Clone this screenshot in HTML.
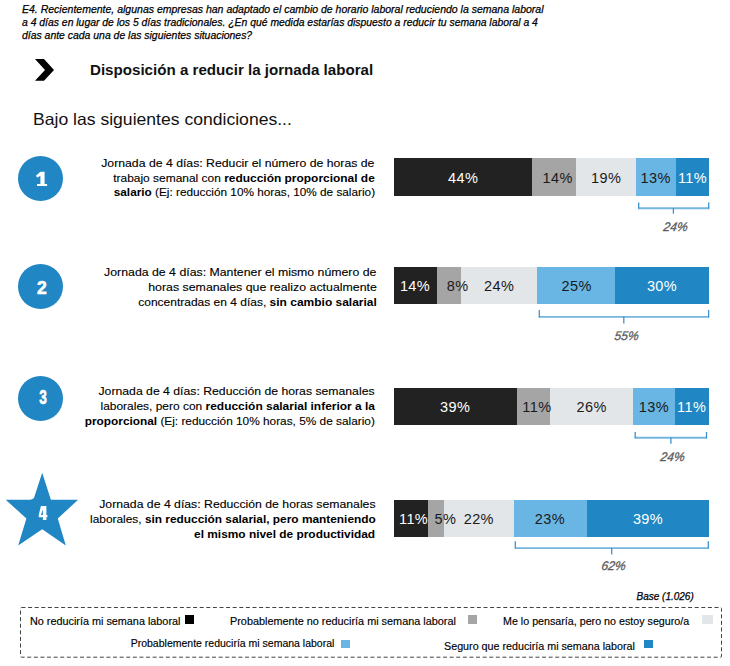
<!DOCTYPE html>
<html><head><meta charset="utf-8"><style>
html,body{margin:0;padding:0;background:#fff;}
body{width:730px;height:666px;position:relative;overflow:hidden;font-family:"Liberation Sans", sans-serif;}
b{font-weight:bold;-webkit-text-stroke:0;}
</style></head><body>
<div style="position:absolute;left:22px;top:3.79px;font-size:11px;line-height:11px;font-weight:normal;font-style:italic;color:#000;white-space:nowrap;transform:scaleX(0.955);transform-origin:left 9.31px;-webkit-text-stroke:0.25px #000;">E4. Recientemente, algunas empresas han adaptado el cambio de horario laboral reduciendo la semana laboral</div>
<div style="position:absolute;left:22px;top:17.19px;font-size:11px;line-height:11px;font-weight:normal;font-style:italic;color:#000;white-space:nowrap;transform:scaleX(0.9447);transform-origin:left 9.31px;-webkit-text-stroke:0.25px #000;">a 4 días en lugar de los 5 días tradicionales. ¿En qué medida estarías dispuesto a reducir tu semana laboral a 4</div>
<div style="position:absolute;left:22px;top:29.99px;font-size:11px;line-height:11px;font-weight:normal;font-style:italic;color:#000;white-space:nowrap;transform:scaleX(0.948);transform-origin:left 9.31px;-webkit-text-stroke:0.25px #000;">días ante cada una de las siguientes situaciones?</div>
<svg style="position:absolute;left:0;top:0" width="730" height="666"><polygon points="35,59 44,59 54,69.9 44,80.8 35,80.8 45,69.9" fill="#000"/></svg>
<div style="position:absolute;left:89.5px;top:62.85px;font-size:14px;line-height:14px;font-weight:bold;font-style:normal;color:#111;white-space:nowrap;transform:scaleX(1.08);transform-origin:left 11.85px;">Disposición a reducir la jornada laboral</div>
<div style="position:absolute;left:33px;top:110.73px;font-size:16.5px;line-height:16.5px;font-weight:normal;font-style:normal;color:#111;white-space:nowrap;transform:scaleX(1.065);transform-origin:left 13.97px;">Bajo las siguientes condiciones...</div>
<div style="position:absolute;left:18.40px;top:155.95px;width:44.9px;height:44.9px;border-radius:50%;background:#2187c4"></div>
<svg style="position:absolute;left:0;top:0" width="730" height="666"><path fill="#fff" d="M40.3,171.8 L44.6,171.8 L44.6,183.9 L47.1,183.9 L47.1,186.1 L37,186.1 L37,183.9 L40.4,183.9 L40.4,175.8 L37.6,177.5 C37,177.4 36.2,176.6 35.9,175.8 Z"/></svg>
<div style="position:absolute;left:18.10px;top:263.85px;width:44.9px;height:44.9px;border-radius:50%;background:#2187c4"></div>
<div style="position:absolute;left:-258.05px;width:600px;text-align:center;top:277.75px;font-size:19.14px;line-height:19.14px;font-weight:bold;font-style:normal;color:#fff;white-space:nowrap;transform:scaleX(0.921);transform-origin:center 16.20px;-webkit-text-stroke:0.6px #fff;">2</div>
<div style="position:absolute;left:18.10px;top:375.85px;width:44.9px;height:44.9px;border-radius:50%;background:#2187c4"></div>
<div style="position:absolute;left:-256.95px;width:600px;text-align:center;top:388.42px;font-size:19.29px;line-height:19.29px;font-weight:bold;font-style:normal;color:#fff;white-space:nowrap;transform:scaleX(0.709);transform-origin:center 16.33px;-webkit-text-stroke:0.6px #fff;">3</div>
<svg style="position:absolute;left:0;top:0" width="730" height="666"><path d="M42.2,472.8 L50.9,499.8 L78.1,499.8 L57.8,518.4 L65.8,545.4 L42.2,529.2 L18.2,545.4 L26.4,518.4 L5.7,499.8 L29.6,499.8 Q33.3,499.5 34.2,497.2 Z" fill="#2187c4"/></svg>
<svg style="position:absolute;left:0;top:0" width="730" height="666"><path fill-rule="evenodd" fill="#fff" d="M40.9,506 L46.4,506 L46.4,514.9 L47.4,514.9 L47.4,517.2 L46.4,517.2 L46.4,520 L42.9,520 L42.9,517.2 L38.8,517.2 L38.8,514.7 Z M42.9,509.6 L42.9,514.9 L40.9,514.9 Z"/></svg>
<div style="position:absolute;right:355.4px;top:158.07px;font-size:11.5px;line-height:11.5px;font-weight:normal;font-style:normal;color:#000;white-space:nowrap;transform:scaleX(1.0655652173913044);transform-origin:right 9.73px;-webkit-text-stroke:0.12px #000;">Jornada de 4 días: Reducir el número de horas de</div>
<div style="position:absolute;right:355.4px;top:173.07px;font-size:11.5px;line-height:11.5px;font-weight:normal;font-style:normal;color:#000;white-space:nowrap;transform:scaleX(1.0387826086956522);transform-origin:right 9.73px;-webkit-text-stroke:0.12px #000;">trabajo semanal con <b>reducción proporcional de</b></div>
<div style="position:absolute;right:355.4px;top:187.47px;font-size:11.5px;line-height:11.5px;font-weight:normal;font-style:normal;color:#000;white-space:nowrap;transform:scaleX(1.0244347826086955);transform-origin:right 9.73px;-webkit-text-stroke:0.12px #000;"><b>salario</b> (Ej: reducción 10% horas, 10% de salario)</div>
<div style="position:absolute;right:353.6px;top:267.17px;font-size:11.5px;line-height:11.5px;font-weight:normal;font-style:normal;color:#000;white-space:nowrap;transform:scaleX(1.0703478260869566);transform-origin:right 9.73px;-webkit-text-stroke:0.12px #000;">Jornada de 4 días: Mantener el mismo número de</div>
<div style="position:absolute;right:353.6px;top:282.17px;font-size:11.5px;line-height:11.5px;font-weight:normal;font-style:normal;color:#000;white-space:nowrap;transform:scaleX(1.0741739130434782);transform-origin:right 9.73px;-webkit-text-stroke:0.12px #000;">horas semanales que realizo actualmente</div>
<div style="position:absolute;right:353.6px;top:296.97px;font-size:11.5px;line-height:11.5px;font-weight:normal;font-style:normal;color:#000;white-space:nowrap;transform:scaleX(1.0426086956521738);transform-origin:right 9.73px;-webkit-text-stroke:0.12px #000;">concentradas en 4 días, <b>sin cambio salarial</b></div>
<div style="position:absolute;right:355px;top:386.17px;font-size:11.5px;line-height:11.5px;font-weight:normal;font-style:normal;color:#000;white-space:nowrap;transform:scaleX(1.0636521739130436);transform-origin:right 9.73px;-webkit-text-stroke:0.12px #000;">Jornada de 4 días: Reducción de horas semanales</div>
<div style="position:absolute;right:355px;top:400.57px;font-size:11.5px;line-height:11.5px;font-weight:normal;font-style:normal;color:#000;white-space:nowrap;transform:scaleX(1.0397391304347825);transform-origin:right 9.73px;-webkit-text-stroke:0.12px #000;">laborales, pero con <b>reducción salarial inferior a la</b></div>
<div style="position:absolute;right:355px;top:415.57px;font-size:11.5px;line-height:11.5px;font-weight:normal;font-style:normal;color:#000;white-space:nowrap;transform:scaleX(1.0292173913043479);transform-origin:right 9.73px;-webkit-text-stroke:0.12px #000;"><b>proporcional</b> (Ej: reducción 10% horas, 5% de salario)</div>
<div style="position:absolute;right:354.7px;top:498.77px;font-size:11.5px;line-height:11.5px;font-weight:normal;font-style:normal;color:#000;white-space:nowrap;transform:scaleX(1.0646086956521739);transform-origin:right 9.73px;-webkit-text-stroke:0.12px #000;">Jornada de 4 días: Reducción de horas semanales</div>
<div style="position:absolute;right:354.7px;top:513.77px;font-size:11.5px;line-height:11.5px;font-weight:normal;font-style:normal;color:#000;white-space:nowrap;transform:scaleX(1.0320869565217392);transform-origin:right 9.73px;-webkit-text-stroke:0.12px #000;">laborales, <b>sin reducción salarial, pero manteniendo</b></div>
<div style="position:absolute;right:354.7px;top:528.57px;font-size:11.5px;line-height:11.5px;font-weight:normal;font-style:normal;color:#000;white-space:nowrap;transform:scaleX(1.034);transform-origin:right 9.73px;-webkit-text-stroke:0.12px #000;"><b>el mismo nivel de productividad</b></div>
<div style="position:absolute;left:394px;top:158px;width:138px;height:37.5px;background:#222222;"></div>
<div style="position:absolute;left:532px;top:158px;width:44px;height:37.5px;background:#a5a5a5;"></div>
<div style="position:absolute;left:576px;top:158px;width:60px;height:37.5px;background:#e2e6e9;"></div>
<div style="position:absolute;left:636px;top:158px;width:40px;height:37.5px;background:#69b6e4;"></div>
<div style="position:absolute;left:676px;top:158px;width:33px;height:37.5px;background:#2187c4;"></div>
<div style="position:absolute;left:163.2px;width:600px;text-align:center;top:170.97px;font-size:14.5px;line-height:14.5px;font-weight:normal;font-style:normal;color:#fff;white-space:nowrap;letter-spacing:0.4px;">44%</div>
<div style="position:absolute;left:257.70000000000005px;width:600px;text-align:center;top:170.97px;font-size:14.5px;line-height:14.5px;font-weight:normal;font-style:normal;color:#1a1a1a;white-space:nowrap;letter-spacing:0.4px;">14%</div>
<div style="position:absolute;left:306.20000000000005px;width:600px;text-align:center;top:170.97px;font-size:14.5px;line-height:14.5px;font-weight:normal;font-style:normal;color:#1a1a1a;white-space:nowrap;letter-spacing:0.4px;">19%</div>
<div style="position:absolute;left:355.70000000000005px;width:600px;text-align:center;top:170.97px;font-size:14.5px;line-height:14.5px;font-weight:normal;font-style:normal;color:#1a1a1a;white-space:nowrap;letter-spacing:0.4px;">13%</div>
<div style="position:absolute;left:392.5px;width:600px;text-align:center;top:170.97px;font-size:14.5px;line-height:14.5px;font-weight:normal;font-style:normal;color:#fff;white-space:nowrap;letter-spacing:0.4px;">11%</div>
<div style="position:absolute;left:394px;top:267px;width:43px;height:36.5px;background:#222222;"></div>
<div style="position:absolute;left:437px;top:267px;width:24px;height:36.5px;background:#a5a5a5;"></div>
<div style="position:absolute;left:461px;top:267px;width:76px;height:36.5px;background:#e2e6e9;"></div>
<div style="position:absolute;left:537px;top:267px;width:78px;height:36.5px;background:#69b6e4;"></div>
<div style="position:absolute;left:615px;top:267px;width:94px;height:36.5px;background:#2187c4;"></div>
<div style="position:absolute;left:115.0px;width:600px;text-align:center;top:279.47px;font-size:14.5px;line-height:14.5px;font-weight:normal;font-style:normal;color:#fff;white-space:nowrap;letter-spacing:0.4px;">14%</div>
<div style="position:absolute;left:157.7px;width:600px;text-align:center;top:279.47px;font-size:14.5px;line-height:14.5px;font-weight:normal;font-style:normal;color:#1a1a1a;white-space:nowrap;letter-spacing:0.4px;">8%</div>
<div style="position:absolute;left:199.2px;width:600px;text-align:center;top:279.47px;font-size:14.5px;line-height:14.5px;font-weight:normal;font-style:normal;color:#1a1a1a;white-space:nowrap;letter-spacing:0.4px;">24%</div>
<div style="position:absolute;left:276.70000000000005px;width:600px;text-align:center;top:279.47px;font-size:14.5px;line-height:14.5px;font-weight:normal;font-style:normal;color:#1a1a1a;white-space:nowrap;letter-spacing:0.4px;">25%</div>
<div style="position:absolute;left:362.0px;width:600px;text-align:center;top:279.47px;font-size:14.5px;line-height:14.5px;font-weight:normal;font-style:normal;color:#fff;white-space:nowrap;letter-spacing:0.4px;">30%</div>
<div style="position:absolute;left:394px;top:388px;width:123px;height:36.5px;background:#222222;"></div>
<div style="position:absolute;left:517px;top:388px;width:33px;height:36.5px;background:#a5a5a5;"></div>
<div style="position:absolute;left:550px;top:388px;width:83px;height:36.5px;background:#e2e6e9;"></div>
<div style="position:absolute;left:633px;top:388px;width:42px;height:36.5px;background:#69b6e4;"></div>
<div style="position:absolute;left:675px;top:388px;width:34px;height:36.5px;background:#2187c4;"></div>
<div style="position:absolute;left:155.2px;width:600px;text-align:center;top:400.47px;font-size:14.5px;line-height:14.5px;font-weight:normal;font-style:normal;color:#fff;white-space:nowrap;letter-spacing:0.4px;">39%</div>
<div style="position:absolute;left:236.9000000000001px;width:600px;text-align:center;top:400.47px;font-size:14.5px;line-height:14.5px;font-weight:normal;font-style:normal;color:#1a1a1a;white-space:nowrap;letter-spacing:0.4px;">11%</div>
<div style="position:absolute;left:291.6px;width:600px;text-align:center;top:400.47px;font-size:14.5px;line-height:14.5px;font-weight:normal;font-style:normal;color:#1a1a1a;white-space:nowrap;letter-spacing:0.4px;">26%</div>
<div style="position:absolute;left:353.9000000000001px;width:600px;text-align:center;top:400.47px;font-size:14.5px;line-height:14.5px;font-weight:normal;font-style:normal;color:#1a1a1a;white-space:nowrap;letter-spacing:0.4px;">13%</div>
<div style="position:absolute;left:391.70000000000005px;width:600px;text-align:center;top:400.47px;font-size:14.5px;line-height:14.5px;font-weight:normal;font-style:normal;color:#fff;white-space:nowrap;letter-spacing:0.4px;">11%</div>
<div style="position:absolute;left:394px;top:500px;width:34px;height:36.5px;background:#222222;"></div>
<div style="position:absolute;left:428px;top:500px;width:16px;height:36.5px;background:#a5a5a5;"></div>
<div style="position:absolute;left:444px;top:500px;width:70px;height:36.5px;background:#e2e6e9;"></div>
<div style="position:absolute;left:514px;top:500px;width:73px;height:36.5px;background:#69b6e4;"></div>
<div style="position:absolute;left:587px;top:500px;width:122px;height:36.5px;background:#2187c4;"></div>
<div style="position:absolute;left:113.59999999999997px;width:600px;text-align:center;top:512.47px;font-size:14.5px;line-height:14.5px;font-weight:normal;font-style:normal;color:#fff;white-space:nowrap;letter-spacing:0.4px;">11%</div>
<div style="position:absolute;left:145.39999999999998px;width:600px;text-align:center;top:512.47px;font-size:14.5px;line-height:14.5px;font-weight:normal;font-style:normal;color:#1a1a1a;white-space:nowrap;letter-spacing:0.4px;">5%</div>
<div style="position:absolute;left:178.8px;width:600px;text-align:center;top:512.47px;font-size:14.5px;line-height:14.5px;font-weight:normal;font-style:normal;color:#1a1a1a;white-space:nowrap;letter-spacing:0.4px;">22%</div>
<div style="position:absolute;left:249.9000000000001px;width:600px;text-align:center;top:512.47px;font-size:14.5px;line-height:14.5px;font-weight:normal;font-style:normal;color:#1a1a1a;white-space:nowrap;letter-spacing:0.4px;">23%</div>
<div style="position:absolute;left:348.0px;width:600px;text-align:center;top:512.47px;font-size:14.5px;line-height:14.5px;font-weight:normal;font-style:normal;color:#fff;white-space:nowrap;letter-spacing:0.4px;">39%</div>
<svg style="position:absolute;left:0;top:0" width="730" height="666"><path d="M638.2 208.20000000000002 H709.2" stroke="#76b5dd" stroke-width="1.9" fill="none"/><path d="M638.7 202.4 V208.70000000000002 M708.7 202.4 V208.70000000000002 M673.4 207.9 V213.7" stroke="#3f93ce" stroke-width="1.3" fill="none"/><path d="M538.8 316.90000000000003 H709.1" stroke="#76b5dd" stroke-width="1.9" fill="none"/><path d="M539.3 310 V317.40000000000003 M708.6 310 V317.40000000000003 M623.8 316.6 V323.6" stroke="#3f93ce" stroke-width="1.3" fill="none"/><path d="M634.7 437.7 H707.0" stroke="#76b5dd" stroke-width="1.9" fill="none"/><path d="M635.2 432 V438.2 M706.5 432 V438.2 M670.9 437.4 V443.8" stroke="#3f93ce" stroke-width="1.3" fill="none"/><path d="M514.8 548.0999999999999 H708.8" stroke="#76b5dd" stroke-width="1.9" fill="none"/><path d="M515.3 541.2 V548.5999999999999 M708.3 541.2 V548.5999999999999 M611.7 547.8 V554.6" stroke="#3f93ce" stroke-width="1.3" fill="none"/></svg>
<div style="position:absolute;left:374.6px;width:600px;text-align:center;top:220.89px;font-size:12.5px;line-height:12.5px;font-weight:normal;font-style:italic;color:#5a5a5a;white-space:nowrap;transform:scaleX(0.97) skewX(-8deg);transform-origin:center 10.58px;-webkit-text-stroke:0.3px #5a5a5a;">24%</div>
<div style="position:absolute;left:325.70000000000005px;width:600px;text-align:center;top:330.39px;font-size:12.5px;line-height:12.5px;font-weight:normal;font-style:italic;color:#5a5a5a;white-space:nowrap;transform:scaleX(0.97) skewX(-8deg);transform-origin:center 10.58px;-webkit-text-stroke:0.3px #5a5a5a;">55%</div>
<div style="position:absolute;left:372.20000000000005px;width:600px;text-align:center;top:451.19px;font-size:12.5px;line-height:12.5px;font-weight:normal;font-style:italic;color:#5a5a5a;white-space:nowrap;transform:scaleX(0.97) skewX(-8deg);transform-origin:center 10.58px;-webkit-text-stroke:0.3px #5a5a5a;">24%</div>
<div style="position:absolute;left:312.6px;width:600px;text-align:center;top:560.39px;font-size:12.5px;line-height:12.5px;font-weight:normal;font-style:italic;color:#5a5a5a;white-space:nowrap;transform:scaleX(0.97) skewX(-8deg);transform-origin:center 10.58px;-webkit-text-stroke:0.3px #5a5a5a;">62%</div>
<div style="position:absolute;left:636.5px;top:591.83px;font-size:10px;line-height:10px;font-weight:normal;font-style:italic;color:#000;white-space:nowrap;-webkit-text-stroke:0.25px #000;">Base (1.026)</div>
<svg style="position:absolute;left:0;top:0" width="730" height="666"><rect x="20.5" y="607.5" width="701" height="49.7" rx="1" fill="none" stroke="#444" stroke-width="1" stroke-dasharray="4 2.6"/></svg>
<div style="position:absolute;left:30.4px;top:615.71px;font-size:10.5px;line-height:10.5px;font-weight:normal;font-style:normal;color:#000;white-space:nowrap;transform:scaleX(1.031);transform-origin:left 8.89px;-webkit-text-stroke:0.15px #000;">No reduciría mi semana laboral</div>
<div style="position:absolute;left:185.2px;top:615px;width:8.900000000000006px;height:8.799999999999955px;background:#000;"></div>
<div style="position:absolute;left:230px;top:615.71px;font-size:10.5px;line-height:10.5px;font-weight:normal;font-style:normal;color:#000;white-space:nowrap;transform:scaleX(1.035);transform-origin:left 8.89px;-webkit-text-stroke:0.15px #000;">Probablemente no reduciría mi semana laboral</div>
<div style="position:absolute;left:468.1px;top:615.3px;width:8.899999999999977px;height:8.5px;background:#a5a5a5;"></div>
<div style="position:absolute;left:502.8px;top:615.71px;font-size:10.5px;line-height:10.5px;font-weight:normal;font-style:normal;color:#000;white-space:nowrap;transform:scaleX(1.019);transform-origin:left 8.89px;-webkit-text-stroke:0.15px #000;">Me lo pensaría, pero no estoy seguro/a</div>
<div style="position:absolute;left:702px;top:615px;width:11px;height:8.799999999999955px;background:#e2e6e9;"></div>
<div style="position:absolute;left:130.7px;top:638.11px;font-size:10.5px;line-height:10.5px;font-weight:normal;font-style:normal;color:#000;white-space:nowrap;-webkit-text-stroke:0.15px #000;">Probablemente reduciría mi semana laboral</div>
<div style="position:absolute;left:341px;top:639.9px;width:9px;height:7.800000000000068px;background:#69b6e4;"></div>
<div style="position:absolute;left:444.4px;top:641.01px;font-size:10.5px;line-height:10.5px;font-weight:normal;font-style:normal;color:#000;white-space:nowrap;transform:scaleX(1.022);transform-origin:left 8.89px;-webkit-text-stroke:0.15px #000;">Seguro que reduciría mi semana laboral</div>
<div style="position:absolute;left:644.1px;top:640.1px;width:8.799999999999955px;height:7.699999999999932px;background:#2187c4;"></div>
</body></html>
